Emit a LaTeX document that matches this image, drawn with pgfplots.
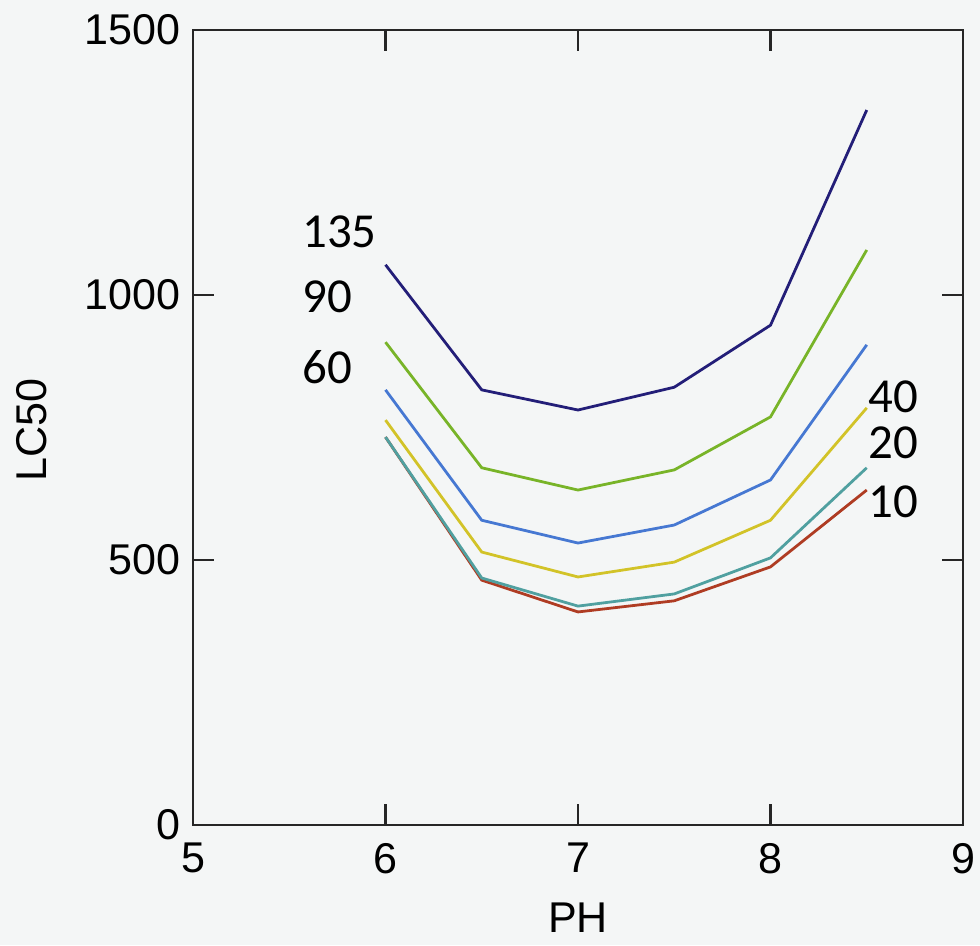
\documentclass[border=0pt]{standalone}
\usepackage{fontspec}
\setmainfont{Liberation Sans}
\newfontfamily\carlito{Carlito}
\usepackage{pgfplots}
\pgfplotsset{compat=1.18}
\definecolor{bgcol}{RGB}{244,246,246}
\definecolor{cnavy}{RGB}{35,30,120}
\definecolor{cgreen}{RGB}{120,180,40}
\definecolor{cblue}{RGB}{70,120,210}
\definecolor{cyellow}{RGB}{210,195,40}
\definecolor{cteal}{RGB}{80,160,160}
\definecolor{cred}{RGB}{175,60,35}
\begin{document}
\begin{tikzpicture}
\fill[bgcol] (-69.48pt,-43.2pt) rectangle (283.32pt,297pt);
\useasboundingbox (-69.48pt,-43.2pt) rectangle (283.32pt,297pt);
\begin{axis}[
  at={(0,0)}, anchor=south west,
  scale only axis,
  width=277.2pt, height=286.2pt,
  xmin=5, xmax=9, ymin=0, ymax=1500,
  xtick={5,6,7,8,9}, ytick={0,500,1000,1500},
  tick align=inside,
  major tick length=7.5pt,
  axis line style={line width=0.9pt, black!85},
  every tick/.style={line width=0.8pt, black!85},
  tick label style={font=\fontsize{15.5}{17}\selectfont},
  xticklabel style={yshift=-3pt},
  yticklabel style={xshift=-1pt},
  /pgf/number format/assume math mode=true,
  /pgf/number format/1000 sep={},
  xlabel={PH}, ylabel={LC50},
  every axis x label/.style={at={(axis description cs:0.5,-0.117)}, anchor=center, font=\fontsize{15.5}{17}\selectfont},
  every axis y label/.style={at={(axis description cs:-0.209,0.497)}, anchor=center, rotate=90, font=\fontsize{15.5}{17}\selectfont},
  every axis plot/.append style={line width=1pt},
  clip=false,
]
\addplot[cnavy] coordinates {(6,1057) (6.5,821) (7,783) (7.5,826) (8,943) (8.5,1349)};
\addplot[cgreen] coordinates {(6,911) (6.5,674) (7,632) (7.5,670) (8,770) (8.5,1085)};
\addplot[cblue] coordinates {(6,821) (6.5,575) (7,532) (7.5,566) (8,651) (8.5,906)};
\addplot[cyellow] coordinates {(6,764) (6.5,515) (7,468) (7.5,496) (8,575) (8.5,787)};
\addplot[cred] coordinates {(6,732) (6.5,462) (7,402) (7.5,423) (8,487) (8.5,632)};
\addplot[cteal] coordinates {(6,732) (6.5,466) (7,413) (7.5,436) (8,504) (8.5,674)};
\node[font=\carlito\fontsize{17.6}{20}\selectfont, anchor=west, inner sep=0pt] at (axis cs:5.565,1119) {135};
\node[font=\carlito\fontsize{17.6}{20}\selectfont, anchor=west, inner sep=0pt] at (axis cs:5.565,996) {90};
\node[font=\carlito\fontsize{17.6}{20}\selectfont, anchor=west, inner sep=0pt] at (axis cs:5.565,864) {60};
\node[font=\carlito\fontsize{17.6}{20}\selectfont, anchor=west, inner sep=0pt] at (axis cs:8.505,808) {40};
\node[font=\carlito\fontsize{17.6}{20}\selectfont, anchor=west, inner sep=0pt] at (axis cs:8.505,721) {20};
\node[font=\carlito\fontsize{17.6}{20}\selectfont, anchor=west, inner sep=0pt] at (axis cs:8.505,609) {10};
\end{axis}
\end{tikzpicture}
\end{document}
